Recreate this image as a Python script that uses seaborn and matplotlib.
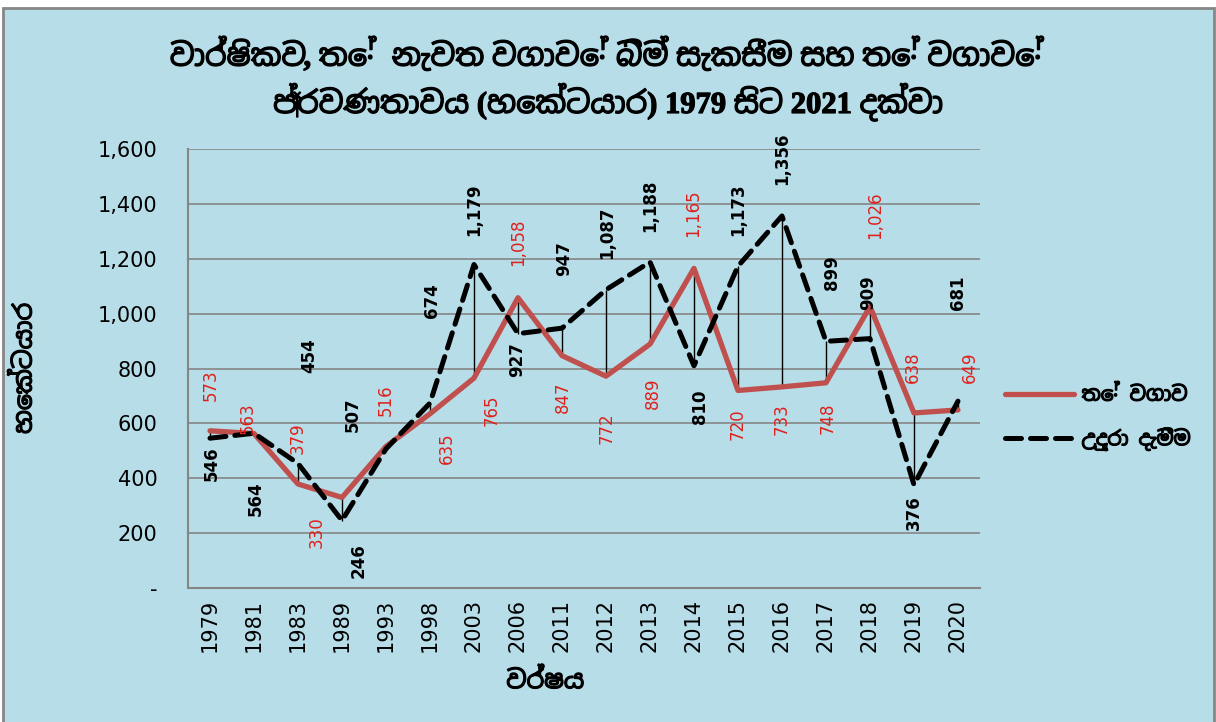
import pandas as pd
import matplotlib
matplotlib.use("Agg")
import matplotlib.pyplot as plt
import matplotlib.patches as mpatches
import matplotlib.patheffects as pe
from matplotlib.ticker import FuncFormatter
import seaborn as sns

# Data.
years = ['1979', '1981', '1983', '1989', '1993', '1998', '2003', '2006', '2011',
         '2012', '2013', '2014', '2015', '2016', '2017', '2018', '2019', '2020']
tea_area = [573, 563, 379, 330, 516, 635, 765, 1058, 847,
            772, 889, 1165, 720, 733, 748, 1026, 638, 649]
uprooted = [546, 564, 454, 246, 507, 674, 1179, 927, 947,
            1087, 1188, 810, 1173, 1356, 899, 909, 376, 681]

tea_name = "තේ වගාව"
uproot_name = "උදුරා දැමීම"
title = "වාර්ෂිකව, තේ  නැවත වගාවේ බිම් සැකසීම සහ තේ වගාවේ\nප්‍රවණතාවය (හෙක්ටයාර) 1979 සිට 2021 දක්වා"
ylab = "හෙක්ටයාර"
xlab = "වර්ෂය"

# Label offsets (pixels) from each point, as placed in the original.
tea_off = [(1, 46), (-6, 15), (0, 46), (-25, -35), (0, 46), (17, -34), (18, -32), (0, 55), (1, -42),
           (1, -52), (3, -49), (-1, 55), (0, -34), (0, -32), (2, -35), (5, 91), (-1, 46), (12, 43)]
up_off = [(2, -25), (2, -65), (11, 108), (17, -40), (-33, 34), (2, 102), (0, 55), (-1, -26), (2, 70),
          (1, 57), (0, 56), (6, -41), (0, 56), (0, 57), (6, 69), (-2, 46), (0, -28), (0, 108)]

sns.set_theme(style="white")
plt.rcParams['font.family'] = ['Noto Sans Sinhala', 'DejaVu Sans']
# the Sinhala font has no bold face, so thicken it with a stroke
bold = [pe.withStroke(linewidth=0.9, foreground="black")]

bg = "#B7DDE8"
fig = plt.figure(figsize=(12.16, 7.22), dpi=100)
fig.patch.set_facecolor("white")
fig.patches.append(mpatches.Rectangle((3 / 1216, -0.01), 1211 / 1216, 1 - 8 / 722 + 0.01,
                                      transform=fig.transFigure, facecolor=bg,
                                      edgecolor="#868686", linewidth=2, zorder=-10))
ax = fig.add_axes([0.1546, 0.1856, 0.8059 - 0.1546, 0.7936 - 0.1856])
ax.set_facecolor(bg)

df = pd.DataFrame({'year': years, 'tea': tea_area, 'up': uprooted})

# thin high-low lines joining the two series
ax.vlines(years, [min(a, b) for a, b in zip(tea_area, uprooted)],
          [max(a, b) for a, b in zip(tea_area, uprooted)], color="black", linewidth=1, zorder=2)
sns.lineplot(x='year', y='tea', data=df, sort=False, color="#C0504D", linewidth=3.8,
             label=tea_name, ax=ax, zorder=3)
sns.lineplot(x='year', y='up', data=df, sort=False, color="black", linewidth=3.6,
             label=uproot_name, ax=ax, zorder=4)
ax.lines[-1].set_dashes([3.2, 1.8])
ax.lines[-1].set_dash_capstyle("round")

for i, y in enumerate(years):
    ax.annotate(f"{tea_area[i]:,}", xy=(i, tea_area[i]), xytext=tea_off[i], textcoords='offset pixels',
                rotation=90, ha='center', va='center', fontsize=12, color="#E0201B",
                family='DejaVu Sans', zorder=5)
    ax.annotate(f"{uprooted[i]:,}", xy=(i, uprooted[i]), xytext=up_off[i], textcoords='offset pixels',
                rotation=90, ha='center', va='center', fontsize=12, color="black",
                fontweight='bold', family='DejaVu Sans', zorder=5)

ax.set_xlim(-0.5, len(years) - 0.5)
ax.set_ylim(0, 1600)
ax.set_yticks(range(0, 1601, 200))
ax.yaxis.set_major_formatter(FuncFormatter(lambda v, p: "-" if v == 0 else f"{int(v):,}"))
ax.grid(axis='y', color="#868686", linewidth=1.2)
ax.tick_params(axis='y', labelsize=15, length=6, color="#868686", pad=16, labelcolor="black")
ax.tick_params(axis='x', labelsize=15, rotation=90, length=0, pad=8, labelcolor="black")
for lab in ax.get_xticklabels() + ax.get_yticklabels():
    lab.set_family('DejaVu Sans')
for side in ['top', 'right']:
    ax.spines[side].set_visible(False)
for side in ['left', 'bottom']:
    ax.spines[side].set_color("#868686")
    ax.spines[side].set_linewidth(1.5)

ax.set_xlabel(xlab, fontsize=18, color="black", path_effects=bold)
ax.xaxis.set_label_coords(0.451, -0.185)
ax.set_ylabel(ylab, fontsize=18, color="black", path_effects=bold)
ax.yaxis.set_label_coords(-0.19, 0.5)
fig.text(0.5, 0.89, title, ha='center', va='center', fontsize=22, fontweight='bold',
         linespacing=1.35, color="black", family=['Liberation Serif', 'Noto Sans Sinhala'],
         path_effects=bold)

leg = ax.legend(loc='center left', bbox_to_anchor=(987 / 1216, 1 - 418 / 722),
                bbox_transform=fig.transFigure, frameon=False, fontsize=14.5,
                handlelength=3.4, handletextpad=0.4, labelspacing=1.1)
for t in leg.get_texts():
    t.set_color("black")
    t.set_path_effects(bold)

fig.savefig("out.png", dpi=100, facecolor=fig.get_facecolor())
